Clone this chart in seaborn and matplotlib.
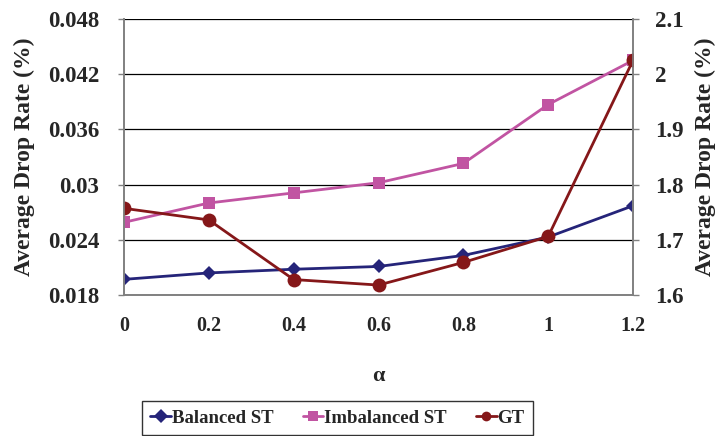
import matplotlib
matplotlib.use("Agg")
import matplotlib.pyplot as plt
import seaborn as sns
import pandas as pd

alpha = [0, 0.2, 0.4, 0.6, 0.8, 1.0, 1.2]
balanced_st = [0.0197, 0.0204, 0.0208, 0.0211, 0.0223, 0.0243, 0.0277]
imbalanced_st = [0.0259, 0.0280, 0.0291, 0.0302, 0.0323, 0.0387, 0.0435]
gt = [1.757, 1.736, 1.628, 1.618, 1.659, 1.706, 2.025]
left_ticks = [0.018, 0.024, 0.03, 0.036, 0.042, 0.048]
left_labels = ["0.018", "0.024", "0.03", "0.036", "0.042", "0.048"]
right_ticks = [1.6, 1.7, 1.8, 1.9, 2.0, 2.1]
right_labels = ["1.6", "1.7", "1.8", "1.9", "2", "2.1"]
x_labels = ["0", "0.2", "0.4", "0.6", "0.8", "1", "1.2"]

sns.set_style("white")
plt.rcParams["font.family"] = ["Liberation Serif", "DejaVu Serif"]
plt.rcParams["font.weight"] = "bold"

df = pd.DataFrame({"alpha": alpha, "Balanced ST": balanced_st,
                   "Imbalanced ST": imbalanced_st, "GT": gt})

fig = plt.figure(figsize=(7.16, 4.36), dpi=100)
ax = fig.add_axes([124/716, 1-295/436, (633-124)/716, (295-19)/436])
ax2 = ax.twinx()

c_bal = "#252479"
c_imb = "#C154A2"
c_gt = "#851719"

sns.lineplot(data=df, x="alpha", y="Balanced ST", ax=ax, color=c_bal, marker="D",
             markersize=7, markeredgewidth=0, linewidth=2, label="Balanced ST", legend=False)
sns.lineplot(data=df, x="alpha", y="Imbalanced ST", ax=ax, color=c_imb, marker="s",
             markersize=9, markeredgewidth=0, linewidth=2, label="Imbalanced ST", legend=False)
sns.lineplot(data=df, x="alpha", y="GT", ax=ax2, color=c_gt, marker="o",
             markersize=10, markeredgewidth=0, linewidth=2, label="GT", legend=False)

ax.set_xlim(0, 1.2)
ax.set_ylim(0.018, 0.048)
ax2.set_ylim(1.6, 2.1)
ax.set_yticks(left_ticks)
ax.set_yticklabels(left_labels, fontsize=16.5, fontweight="bold")
ax2.set_yticks(right_ticks)
ax2.set_yticklabels(right_labels, fontsize=16.5, fontweight="bold")
ax.set_xticks(alpha)
ax.set_xticklabels(x_labels, fontsize=14.5, fontweight="bold")
ax.grid(axis="y", color="black", linewidth=0.9)
ax.grid(axis="x", visible=False)
ax.set_axisbelow(True)

for a in (ax, ax2):
    for s in a.spines.values():
        s.set_color("#808080")
        s.set_linewidth(1.2)
    a.spines["top"].set_visible(False)
ax.tick_params(axis="y", direction="out", length=4, color="#808080", width=1, pad=14)
ax2.tick_params(axis="y", direction="out", length=4, color="#808080", width=1, pad=12)
ax.tick_params(axis="x", direction="out", length=4, color="#808080", width=1, pad=11)

ax.set_xlabel("α", fontsize=16, fontweight="bold", labelpad=22)
ax.set_ylabel("Average Drop Rate (%)", fontsize=17, fontweight="bold", labelpad=9)
ax2.set_ylabel("Average Drop Rate (%)", fontsize=17, fontweight="bold", labelpad=8)

h1, l1 = ax.get_legend_handles_labels()
h2, l2 = ax2.get_legend_handles_labels()
leg = fig.legend(h1 + h2, l1 + l2, loc="upper left",
                 bbox_to_anchor=(142/716, 1-401/436), ncol=3, frameon=True,
                 fancybox=False, edgecolor="black", borderaxespad=0,
                 handlelength=1.1, handletextpad=0.05, columnspacing=1.55,
                 borderpad=0.45, prop={"weight": "bold", "size": 13.5})
leg.get_frame().set_linewidth(1.0)
for h in leg.legend_handles:
    h.set_markersize(7)

fig.savefig("out.png", dpi=100)
